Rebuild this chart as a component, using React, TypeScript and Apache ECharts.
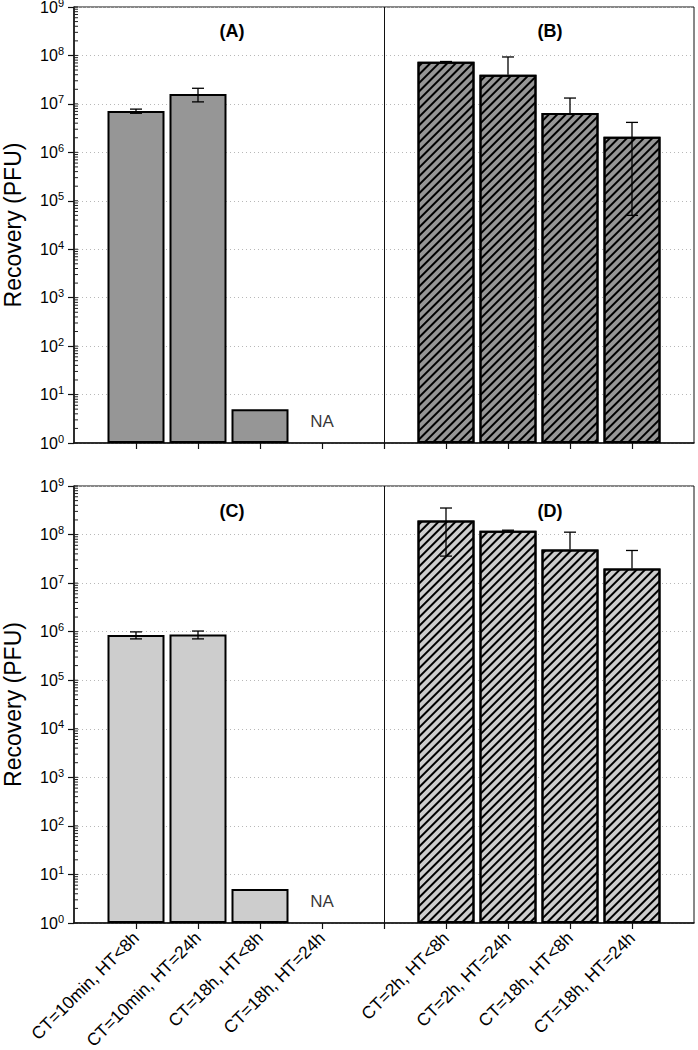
import React, { useEffect, useRef } from "react";
import * as echarts from "echarts";

// ---- categories (index 0, 5, 10 are empty slots around the panels) ----
const categories = [
  "",
  "CT=10min, HT<8h",
  "CT=10min, HT=24h",
  "CT=18h, HT<8h",
  "CT=18h, HT=24h",
  "",
  "CT=2h, HT<8h",
  "CT=2h, HT=24h",
  "CT=18h, HT<8h",
  "CT=18h, HT=24h",
  "",
];
const leftIdx = [1, 2, 3, 4];
const rightIdx = [6, 7, 8, 9];
const dividerIdx = 5;

// ---- values (PFU) and errors ----
const aValues = [7.1e6, 1.6e7, 5, null];
const aErrors = [7e5, 5e6, 0, null];
const bValues = [7.4e7, 4.0e7, 6.5e6, 2.1e6];
const bErrors = [1e6, 5.3e7, 6.7e6, 2.05e6];
const cValues = [8.5e5, 8.7e5, 5, null];
const cErrors = [1.4e5, 1.6e5, 0, null];
const dValues = [1.94e8, 1.2e8, 4.9e7, 2.0e7];
const dErrors = [1.58e8, 3e6, 6.3e7, 2.7e7];

const panelTitles = ["(A)", "(B)", "(C)", "(D)"];
const naLabel = "NA";
const naValue = 2.8;

// ---- y-axis ticks ----
const yMin = 1;
const yMax = 1e9;
const decades = [0, 1, 2, 3, 4, 5, 6, 7, 8];
const minorMultipliers = [1, 2, 3, 4, 5, 6, 7, 8, 9];

const FONT = "'Liberation Sans', Arial, Helvetica, sans-serif";

function fullRow(idx: number[], vals: (number | null)[]) {
  const row: any[] = categories.map(() => "-");
  idx.forEach((ci, k) => {
    if (vals[k] != null) row[ci] = vals[k];
  });
  return row;
}

function errRows(idx: number[], vals: (number | null)[], errs: (number | null)[]) {
  const rows: number[][] = [];
  idx.forEach((ci, k) => {
    const v = vals[k];
    const e = errs[k];
    if (v != null && e != null && e > 0) rows.push([ci, v, e]);
  });
  return rows;
}

const tickValues: number[][] = [];
decades.forEach((d) => minorMultipliers.forEach((m) => tickValues.push([0, m * Math.pow(10, d)])));
tickValues.push([0, 1e9]);

function errorRender(params: any, api: any) {
  const x = api.value(0);
  const v = api.value(1);
  const e = api.value(2);
  const pTop = api.coord([x, v + e]);
  const pV = api.coord([x, v]);
  const hasLo = v - e > 0;
  const pLo = hasLo ? api.coord([x, v - e]) : pV;
  const cw = 6;
  const st = { stroke: "#000", lineWidth: 1.3 };
  const children: any[] = [
    { type: "line", shape: { x1: pTop[0], y1: pTop[1], x2: pLo[0], y2: pLo[1] }, style: st },
    { type: "line", shape: { x1: pTop[0] - cw, y1: pTop[1], x2: pTop[0] + cw, y2: pTop[1] }, style: st },
  ];
  if (hasLo) {
    children.push({ type: "line", shape: { x1: pLo[0] - cw, y1: pLo[1], x2: pLo[0] + cw, y2: pLo[1] }, style: st });
  }
  return { type: "group", children };
}

function tickRender(params: any, api: any) {
  const p = api.coord([api.value(0), api.value(1)]);
  return {
    type: "line",
    shape: { x1: p[0], y1: p[1], x2: p[0] + 4, y2: p[1] },
    style: { stroke: "#222", lineWidth: 1 },
  };
}

const hatch = {
  symbol: "rect",
  symbolSize: 1,
  color: "#000",
  dashArrayX: [1, 0],
  dashArrayY: [2, 4],
  rotation: -Math.PI / 4,
};

export default function App() {
  const ref = useRef<HTMLDivElement>(null);
  useEffect(() => {
    document.body.style.margin = "0";
    const chart = echarts.init(ref.current!, null, { renderer: "svg" });

    const grids = [
      { left: 74, right: 4, top: 7, height: 436 },
      { left: 74, right: 4, top: 486, height: 437 },
    ];

    const xAxes = grids.map((g, i) => ({
      type: "category",
      gridIndex: i,
      data: categories,
      boundaryGap: false,
      axisLine: { show: true, lineStyle: { color: "#111", width: 1.5 } },
      axisTick: {
        show: true,
        length: 6,
        interval: (index: number) => index >= 1 && index <= 9,
        lineStyle: { color: "#111", width: 1.2 },
      },
      axisLabel: {
        show: i === 1,
        interval: 0,
        rotate: 45,
        margin: 12,
        fontSize: 17.5,
        color: "#000",
        fontFamily: FONT,
      },
      splitLine: { show: false },
    }));

    const yAxes = grids.map((g, i) => ({
      type: "log",
      gridIndex: i,
      logBase: 10,
      min: yMin,
      max: yMax,
      interval: 1,
      splitNumber: 9,
      name: "Recovery (PFU)",
      nameLocation: "middle",
      nameGap: 50,
      nameTextStyle: { fontSize: 23, color: "#000", fontFamily: FONT },
      axisLine: { show: true, lineStyle: { color: "#111", width: 1.5 } },
      axisTick: { show: true, length: 6, lineStyle: { color: "#111", width: 1.2 } },
      axisLabel: {
        margin: 10,
        color: "#000",
        fontSize: 16,
        fontFamily: FONT,
        formatter: (v: number) => `10{sup|${Math.round(Math.log10(v))}}`,
        rich: {
          sup: { fontSize: 11, fontFamily: FONT, color: "#000", padding: [0, 0, 9, 0] },
        },
      },
      splitLine: { show: true, lineStyle: { color: "#b8b8b8", type: [1, 3], width: 1 } },
    }));

    const panels = [
      { g: 0, lv: aValues, le: aErrors, rv: bValues, re: bErrors, color: "#969696" },
      { g: 1, lv: cValues, le: cErrors, rv: dValues, re: dErrors, color: "#cdcdcd" },
    ];

    const series: any[] = [];
    panels.forEach((p) => {
      series.push({
        type: "bar",
        xAxisIndex: p.g,
        yAxisIndex: p.g,
        data: fullRow(leftIdx, p.lv),
        barWidth: 57,
        barGap: "-100%",
        itemStyle: { color: p.color, borderColor: "#000", borderWidth: 2 },
        markLine: {
          silent: true,
          symbol: "none",
          label: { show: false },
          lineStyle: { color: "#111", width: 1, type: "solid" },
          data: [{ xAxis: dividerIdx }],
        },
        z: 2,
      });
      series.push({
        type: "bar",
        xAxisIndex: p.g,
        yAxisIndex: p.g,
        data: fullRow(rightIdx, p.rv),
        barWidth: 57,
        barGap: "-100%",
        itemStyle: { color: p.color, borderColor: "#000", borderWidth: 2, decal: hatch },
        z: 2,
      });
      series.push({
        type: "custom",
        xAxisIndex: p.g,
        yAxisIndex: p.g,
        renderItem: errorRender,
        encode: { x: 0, y: 1 },
        data: [...errRows(leftIdx, p.lv, p.le), ...errRows(rightIdx, p.rv, p.re)],
        z: 4,
      });
      series.push({
        type: "custom",
        xAxisIndex: p.g,
        yAxisIndex: p.g,
        renderItem: tickRender,
        encode: { x: 0, y: 1 },
        data: tickValues,
        clip: false,
        z: 5,
      });
      series.push({
        type: "scatter",
        xAxisIndex: p.g,
        yAxisIndex: p.g,
        symbolSize: 0,
        data: [[4, naValue]],
        label: {
          show: true,
          position: "inside",
          formatter: naLabel,
          fontSize: 17,
          color: "#000",
          fontFamily: FONT,
        },
        z: 5,
      });
    });

    const titlePos = [
      { left: 232, top: 31 },
      { left: 550, top: 31 },
      { left: 232, top: 511 },
      { left: 550, top: 511 },
    ];

    chart.setOption({
      animation: false,
      textStyle: { fontFamily: FONT },
      grid: grids.map((g) => ({
        ...g,
        show: true,
        borderColor: "#111",
        borderWidth: 1,
        backgroundColor: "transparent",
        containLabel: false,
        outerBoundsMode: "none",
      })),
      xAxis: xAxes,
      yAxis: yAxes,
      graphic: panelTitles.map((t, i) => ({
        type: "text",
        x: titlePos[i].left,
        y: titlePos[i].top,
        style: {
          text: t,
          fontSize: 18,
          fontWeight: "bold",
          fontFamily: FONT,
          fill: "#000",
          align: "center",
          verticalAlign: "middle",
        },
        z: 10,
      })),
      series,
    });
    return () => chart.dispose();
  }, []);
  return (
    <div
      ref={ref}
      style={{ position: "absolute", left: 0, top: 0, width: 698, height: 1050, background: "#fff" }}
    />
  );
}
